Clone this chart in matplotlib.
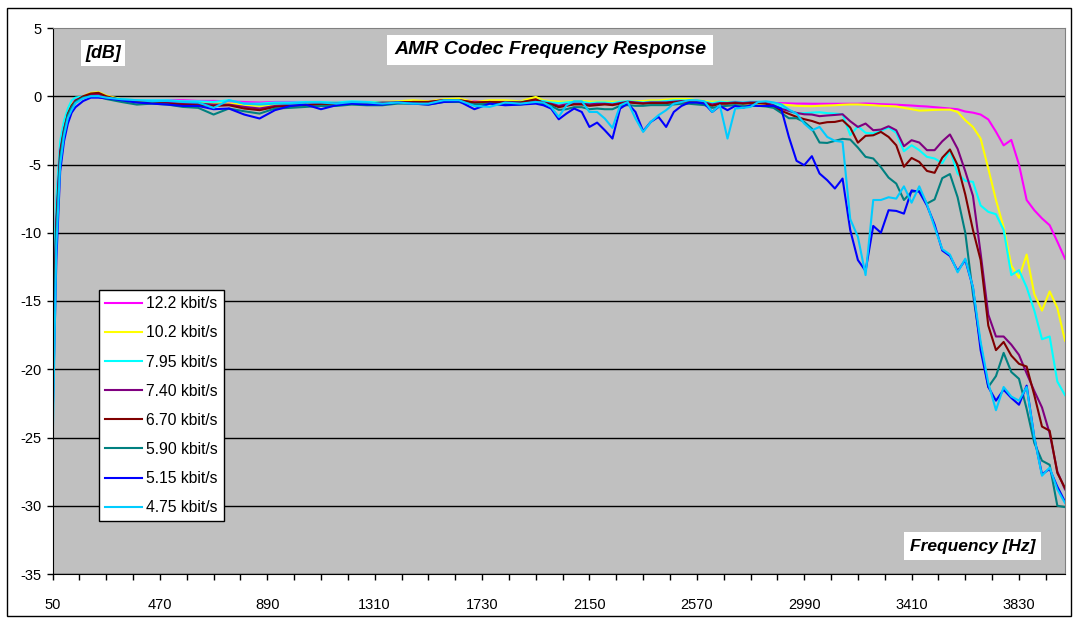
import matplotlib
matplotlib.use("Agg")
import matplotlib.pyplot as plt
from matplotlib.patches import Rectangle

plt.rcParams['font.family'] = ['Liberation Sans', 'DejaVu Sans']
plt.rcParams['axes.unicode_minus'] = False

# frequency categories [Hz]
freq = ([50, 65, 80, 95, 110, 125, 140, 170, 200, 230, 260]
        + list(range(320, 1941, 60))
        + list(range(1970, 4011, 30)))

# response per codec mode [dB]
r122 = ([-17.5, -8.0, -3.6, -2.1, -1.1, -0.6, -0.2, 0.0, 0.05, 0.0, -0.1]
        + [-0.24, -0.29, -0.29, -0.29, -0.29, -0.34, -0.34, -0.37, -0.42, -0.46,
           -0.42, -0.42, -0.42, -0.42, -0.42, -0.42, -0.42, -0.42, -0.42, -0.37,
           -0.37, -0.29, -0.29, -0.37, -0.37, -0.37, -0.37, -0.29]
        + [-0.45, -0.45, -0.47, -0.45, -0.45, -0.45, -0.46, -0.45, -0.45, -0.46,
           -0.45, -0.44, -0.45, -0.45, -0.45, -0.45, -0.44, -0.43, -0.43, -0.43,
           -0.44, -0.45, -0.46, -0.45, -0.46, -0.46, -0.47, -0.47, -0.48, -0.49,
           -0.5, -0.5, -0.52, -0.54, -0.54, -0.55, -0.55, -0.55, -0.55, -0.55,
           -0.55, -0.55, -0.53, -0.55, -0.58, -0.6, -0.62, -0.65, -0.68, -0.72,
           -0.75, -0.8, -0.85, -0.9, -0.95, -1.12, -1.2, -1.34, -1.7, -2.6,
           -3.6, -3.2, -5.0, -7.6, -8.35, -8.95, -9.45, -10.65, -11.9])

r102 = ([-18.0, -8.5, -3.8, -2.3, -1.2, -0.6, -0.3, 0.0, 0.25, 0.3, 0.05]
        + [-0.22, -0.29, -0.37, -0.37, -0.42, -0.46, -0.54, -0.54, -0.61, -0.71,
           -0.61, -0.54, -0.54, -0.46, -0.46, -0.46, -0.42, -0.42, -0.37, -0.29,
           -0.37, -0.22, -0.17, -0.42, -0.29, -0.29, -0.37, -0.05]
        + [-0.3, -0.35, -0.4, -0.4, -0.35, -0.35, -0.4, -0.4, -0.4, -0.4,
           -0.4, -0.35, -0.35, -0.35, -0.3, -0.3, -0.25, -0.2, -0.2, -0.2,
           -0.3, -0.35, -0.4, -0.4, -0.4, -0.45, -0.5, -0.55, -0.55, -0.55,
           -0.55, -0.6, -0.65, -0.7, -0.72, -0.73, -0.7, -0.68, -0.66, -0.62,
           -0.6, -0.6, -0.63, -0.66, -0.7, -0.72, -0.75, -0.85, -0.95, -1.05,
           -1.03, -1.0, -0.98, -0.98, -1.15, -1.76, -2.25, -3.1, -5.3, -7.6,
           -9.6, -12.4, -13.3, -11.6, -14.5, -15.7, -14.3, -15.5, -17.9])

r795 = ([-15.5, -7.5, -3.3, -1.8, -0.9, -0.3, -0.1, 0.0, 0.05, 0.05, -0.1]
        + [-0.22, -0.29, -0.29, -0.29, -0.37, -0.37, -0.42, -0.29, -0.54, -0.54,
           -0.46, -0.46, -0.42, -0.42, -0.46, -0.37, -0.42, -0.46, -0.46, -0.42,
           -0.46, -0.29, -0.29, -0.54, -0.54, -0.42, -0.42, -0.29]
        + [-0.35, -0.45, -0.5, -0.45, -0.4, -0.4, -0.5, -0.45, -0.45, -0.5,
           -0.4, -0.35, -0.4, -0.45, -0.4, -0.4, -0.35, -0.3, -0.3, -0.3,
           -0.35, -0.4, -0.5, -0.4, -0.45, -0.4, -0.45, -0.4, -0.4, -0.45,
           -0.59, -0.78, -1.1, -1.27, -1.24, -1.2, -1.17, -1.24, -1.27, -1.32,
           -2.85, -2.2, -2.68, -2.73, -2.54, -2.29, -2.68, -4.03, -3.59, -3.95,
           -4.44, -4.56, -4.9, -3.95, -5.66, -6.2, -6.27, -8.0, -8.47, -8.64,
           -9.8, -13.1, -12.74, -14.0, -15.7, -17.8, -17.6, -20.9, -21.9])

r740 = ([-19.0, -9.0, -4.0, -2.4, -1.3, -0.7, -0.3, -0.05, 0.15, 0.15, -0.05]
        + [-0.29, -0.37, -0.42, -0.46, -0.54, -0.54, -0.61, -0.61, -0.78, -0.9,
           -0.71, -0.61, -0.61, -0.54, -0.54, -0.54, -0.54, -0.46, -0.46, -0.42,
           -0.42, -0.29, -0.29, -0.46, -0.42, -0.42, -0.46, -0.29]
        + [-0.45, -0.55, -0.7, -0.6, -0.55, -0.55, -0.6, -0.55, -0.55, -0.6,
           -0.5, -0.4, -0.45, -0.5, -0.45, -0.45, -0.45, -0.4, -0.35, -0.35,
           -0.4, -0.45, -0.6, -0.5, -0.5, -0.45, -0.5, -0.45, -0.45, -0.5,
           -0.66, -0.93, -1.07, -1.22, -1.32, -1.34, -1.46, -1.41, -1.37, -1.32,
           -1.83, -2.25, -2.0, -2.49, -2.44, -2.2, -2.49, -3.66, -3.22, -3.39,
           -3.95, -3.95, -3.3, -2.8, -3.85, -5.5, -7.3, -11.5, -16.0, -17.6,
           -17.6, -18.2, -18.95, -20.3, -21.6, -22.8, -24.7, -27.5, -28.8])

r670 = ([-20.0, -9.5, -4.2, -2.5, -1.3, -0.7, -0.35, 0.0, 0.2, 0.25, 0.0]
        + [-0.29, -0.42, -0.46, -0.54, -0.61, -0.66, -0.71, -0.66, -0.9, -1.02,
           -0.78, -0.71, -0.66, -0.61, -0.61, -0.54, -0.54, -0.54, -0.46, -0.42,
           -0.42, -0.29, -0.29, -0.46, -0.42, -0.46, -0.46, -0.22]
        + [-0.5, -0.6, -0.8, -0.7, -0.6, -0.6, -0.7, -0.65, -0.6, -0.65,
           -0.55, -0.45, -0.5, -0.55, -0.5, -0.5, -0.5, -0.45, -0.4, -0.4,
           -0.45, -0.5, -0.7, -0.55, -0.55, -0.5, -0.55, -0.5, -0.5, -0.55,
           -0.78, -1.07, -1.29, -1.51, -1.68, -1.81, -2.0, -1.9, -1.88, -1.76,
           -2.29, -3.4, -2.9, -2.86, -2.61, -2.98, -3.59, -5.17, -4.52, -4.81,
           -5.47, -5.61, -4.5, -3.9, -5.05, -7.2, -9.8, -12.0, -16.8, -18.6,
           -18.0, -19.0, -19.6, -19.8, -21.9, -24.2, -24.5, -27.6, -28.7])

r590 = ([-22.0, -10.0, -4.5, -2.6, -1.4, -0.8, -0.4, -0.1, 0.0, -0.05, -0.2]
        + [-0.42, -0.61, -0.54, -0.61, -0.78, -0.85, -1.34, -0.9, -1.1, -1.27,
           -0.9, -0.85, -0.78, -0.71, -0.71, -0.61, -0.66, -0.66, -0.54, -0.54,
           -0.61, -0.42, -0.42, -0.61, -0.54, -0.61, -0.61, -0.42]
        + [-0.55, -0.7, -1.0, -0.95, -0.8, -0.8, -0.95, -0.9, -0.95, -0.95,
           -0.7, -0.65, -0.7, -0.7, -0.65, -0.65, -0.65, -0.6, -0.55, -0.55,
           -0.6, -0.65, -0.85, -0.75, -0.7, -0.65, -0.7, -0.7, -0.7, -0.75,
           -0.85, -1.22, -1.61, -1.61, -1.88, -2.37, -3.39, -3.42, -3.27, -3.12,
           -3.17, -3.76, -4.44, -4.56, -5.2, -5.96, -6.4, -7.6, -7.0, -6.93,
           -7.86, -7.56, -6.0, -5.7, -7.4, -10.0, -14.5, -18.2, -21.3, -20.5,
           -18.8, -20.2, -20.7, -22.9, -25.4, -26.7, -27.0, -30.0, -30.1])

r515 = ([-24.0, -12.0, -5.5, -3.3, -2.0, -1.2, -0.8, -0.35, -0.1, -0.1, -0.15]
        + [-0.29, -0.46, -0.54, -0.61, -0.71, -0.71, -0.95, -0.9, -1.34, -1.63,
           -1.02, -0.71, -0.61, -0.95, -0.66, -0.54, -0.61, -0.61, -0.46, -0.54,
           -0.61, -0.42, -0.37, -0.95, -0.54, -0.66, -0.61, -0.54]
        + [-0.66, -0.9, -1.69, -1.27, -0.9, -1.15, -2.25, -1.93, -2.49, -3.1,
           -0.9, -0.54, -1.15, -2.56, -1.88, -1.51, -2.25, -1.15, -0.71, -0.46,
           -0.46, -0.54, -1.15, -0.71, -1.02, -0.71, -0.85, -0.66, -0.71, -0.71,
           -0.7, -0.9, -2.98, -4.73, -5.05, -4.39, -5.66, -6.15, -6.76, -6.03,
           -9.8, -12.0, -12.8, -9.5, -10.0, -8.35, -8.4, -8.6, -6.9, -7.0,
           -8.0, -9.4, -11.3, -11.7, -12.8, -12.0, -14.0, -18.6, -21.3, -22.3,
           -21.5, -22.1, -22.6, -21.2, -25.0, -27.7, -27.3, -28.6, -29.7])

r475 = ([-26.0, -11.0, -5.0, -2.9, -1.6, -1.0, -0.5, -0.15, 0.0, 0.0, -0.1]
        + [-0.22, -0.29, -0.37, -0.34, -0.42, -0.46, -0.85, -0.29, -0.54, -0.61,
           -0.54, -0.54, -0.46, -0.46, -0.54, -0.42, -0.46, -0.54, -0.46, -0.54,
           -0.54, -0.29, -0.29, -0.71, -0.78, -0.46, -0.54, -0.42]
        + [-0.46, -0.78, -1.51, -0.66, -0.37, -0.37, -1.15, -1.15, -1.63, -2.32,
           -0.66, -0.42, -1.63, -2.61, -1.88, -1.39, -1.02, -0.54, -0.42, -0.29,
           -0.29, -0.37, -1.15, -0.66, -3.1, -0.9, -0.85, -0.78, -0.42, -0.37,
           -0.45, -0.59, -0.98, -1.27, -2.0, -2.49, -2.25, -2.98, -3.27, -3.34,
           -9.0, -10.3, -13.1, -7.6, -7.6, -7.4, -7.5, -6.6, -7.8, -6.6,
           -7.9, -9.6, -11.2, -11.6, -12.9, -11.9, -14.0, -18.0, -21.0, -23.0,
           -21.3, -22.0, -22.3, -21.3, -25.0, -27.8, -27.2, -28.8, -29.8])

labels = ['12.2 kbit/s', '10.2 kbit/s', '7.95 kbit/s', '7.40 kbit/s',
          '6.70 kbit/s', '5.90 kbit/s', '5.15 kbit/s', '4.75 kbit/s']
colors = ['#ff00ff', '#ffff00', '#00ffff', '#800080',
          '#800000', '#008080', '#0000ff', '#00ccff']
data = [r122, r102, r795, r740, r670, r590, r515, r475]

W, H = 1074, 619
fig = plt.figure(figsize=(W / 100, H / 100), dpi=100)
fig.patch.set_facecolor('white')
ax = fig.add_axes([52.5 / W, 1 - 574 / H, (1065 - 52.5) / W, (574 - 28) / H])
ax.set_facecolor('#c0c0c0')

for lab, col, vals in zip(labels, colors, data):
    ax.plot(freq, vals, color=col, lw=1.5, label=lab)

ax.set_xlim(50, 4010)
ax.set_ylim(-35, 5)
ax.set_yticks(range(-35, 6, 5))
xt = list(range(50, 4011, 105))
ax.set_xticks(xt)
ax.set_xticklabels([str(v) if (v - 50) % 420 == 0 else '' for v in xt])

ax.yaxis.grid(True, color='black', lw=1.0)
ax.get_ygridlines()[-1].set_visible(False)
ax.set_axisbelow(True)

ax.tick_params(direction='out', length=4, width=1, color='black', labelsize=10.5)
ax.tick_params(axis='x', pad=13)
ax.tick_params(axis='y', pad=4)
ax.spines['left'].set_color('black')
ax.spines['bottom'].set_color('black')
ax.spines['top'].set_color('#808080')
ax.spines['right'].set_color('#808080')

leg = ax.legend(loc='upper left', bbox_to_anchor=((98.5 - 52.5) / (1065 - 52.5), 1 - (290 - 28) / (574 - 28)),
                borderaxespad=0, fontsize=11.3, handlelength=2.35, handletextpad=0.3,
                labelspacing=0.9, borderpad=0.4, fancybox=False, framealpha=1,
                edgecolor='black')
leg.get_frame().set_linewidth(1.0)

fig.text(550 / W, 1 - 50 / H, 'AMR Codec Frequency Response', ha='center', va='center',
         fontsize=14, fontweight='bold', fontstyle='italic',
         bbox=dict(facecolor='white', edgecolor='none', boxstyle='square,pad=0.35'))
fig.text(103 / W, 1 - 53 / H, '[dB]', ha='center', va='center',
         fontsize=12.9, fontweight='bold', fontstyle='italic',
         bbox=dict(facecolor='white', edgecolor='none', boxstyle='square,pad=0.25'))
fig.text(972.5 / W, 1 - 546 / H, 'Frequency [Hz]', ha='center', va='center',
         fontsize=12.5, fontweight='bold', fontstyle='italic',
         bbox=dict(facecolor='white', edgecolor='none', boxstyle='square,pad=0.35'))

fig.add_artist(Rectangle((7 / W, 3 / H), (1071 - 7) / W, (611 - 3) / H,
                         transform=fig.transFigure, fill=False, edgecolor='black', lw=1))

fig.savefig('out.png', dpi=100)
